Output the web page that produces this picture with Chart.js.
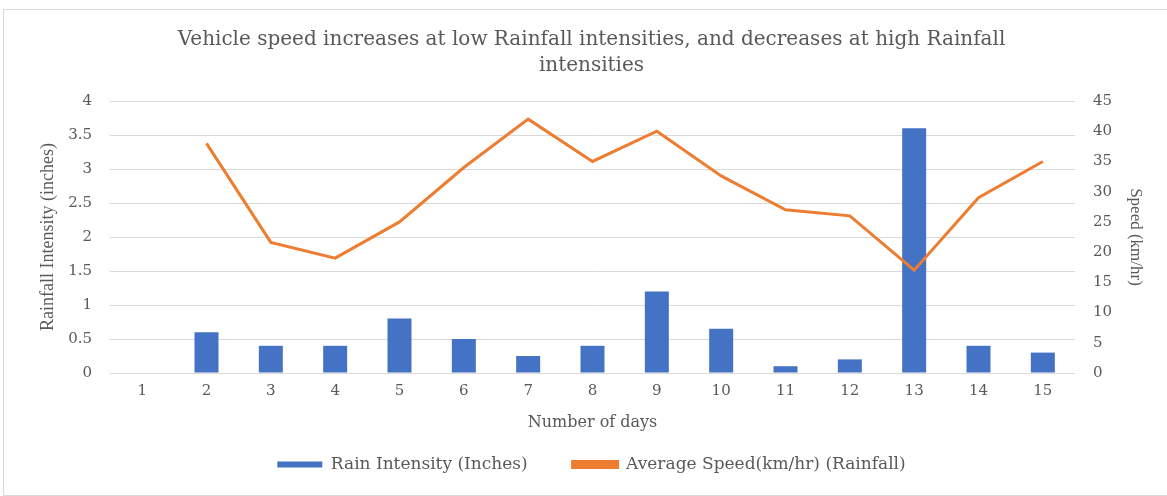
<!DOCTYPE html>
<html>
<head>
<meta charset="utf-8">
<script src="https://cdn.jsdelivr.net/npm/chart.js@4/dist/chart.umd.min.js"></script>
<style>
  html, body { margin: 0; padding: 0; background: #fff; overflow: hidden; }
  #kutu {
    position: absolute; left: 3px; top: 9px; width: 1165px; height: 487px;
    border: 1px solid #d9d9d9; box-sizing: border-box; background: #fff;
  }
  canvas { display: block; }
</style>
</head>
<body>
<div id="kutu"><canvas id="grafik" width="1163" height="485"></canvas></div>
<script>
// Günler ve ölçülen değerler
const gunler = ["1", "2", "3", "4", "5", "6", "7", "8", "9", "10", "11", "12", "13", "14", "15"];
const yagisSiddeti = [0, 0.6, 0.4, 0.4, 0.8, 0.5, 0.25, 0.4, 1.2, 0.65, 0.1, 0.2, 3.6, 0.4, 0.3];
const ortalamaHiz = [null, 38, 21.6, 19, 25, 34, 42, 35, 40, 32.6, 27, 26, 17, 29, 35];
const solTikler = [0, 0.5, 1, 1.5, 2, 2.5, 3, 3.5, 4];
const sagTikler = [0, 5, 10, 15, 20, 25, 30, 35, 40, 45];

const genisYazi = "'DejaVu Serif', serif"; // yatay yazılar geniş görünüyor
const darYazi = "'Liberation Serif', serif"; // dikey eksen başlıkları
const gri = "#595959";

new Chart(document.getElementById("grafik"), {
  type: "bar",
  data: {
    labels: gunler,
    datasets: [
      {
        label: "Average Speed(km/hr) (Rainfall)",
        type: "line",
        data: ortalamaHiz,
        borderColor: "#ed7d31",
        backgroundColor: "#ed7d31",
        borderWidth: 3,
        pointRadius: 0,
        tension: 0,
        yAxisID: "y1",
      },
      {
        label: "Rain Intensity (Inches)",
        data: yagisSiddeti,
        backgroundColor: "#4472c4",
        categoryPercentage: 1,
        barPercentage: 0.373,
        yAxisID: "y",
      },
    ],
  },
  options: {
    responsive: false,
    animation: false,
    layout: { padding: { left: 29, right: 17, top: 0, bottom: 12 } },
    plugins: {
      title: {
        display: true,
        text: ["Vehicle speed increases at low Rainfall intensities, and decreases at high Rainfall", "intensities"],
        color: gri,
        font: { family: genisYazi, size: 20, weight: "normal", lineHeight: 1.3 },
        padding: { top: 17, bottom: 22 },
      },
      legend: {
        position: "bottom",
        reverse: true,
        labels: {
          color: gri,
          font: { family: genisYazi, size: 17 },
          boxWidth: 45,
          boxHeight: 6,
          padding: 45,
        },
      },
      tooltip: { enabled: false },
    },
    scales: {
      x: {
        // legend üst boşluğu başlığın altına girsin diye yükseklik sabit
        afterFit: (eksen) => { eksen.height = 38; },
        grid: { display: false, drawTicks: false },
        border: { display: false },
        ticks: { color: gri, font: { family: genisYazi, size: 15 }, maxRotation: 0, autoSkip: false, padding: 9 },
        title: {
          display: true,
          text: "Number of days",
          color: gri,
          font: { family: genisYazi, size: 16 },
          padding: { top: 0, bottom: -21 },
        },
      },
      y: {
        position: "left",
        min: 0,
        max: 4,
        afterBuildTicks: (eksen) => { eksen.ticks = solTikler.map((v) => ({ value: v })); },
        afterFit: (eksen) => { eksen.width = 77; },
        grid: { color: "#d9d9d9", lineWidth: 1, drawTicks: false },
        border: { display: false },
        ticks: { color: gri, font: { family: genisYazi, size: 15 }, padding: 18, callback: (v) => String(v) },
        title: {
          display: true,
          text: "Rainfall Intensity (inches)",
          color: gri,
          font: { family: darYazi, size: 18 },
        },
      },
      y1: {
        position: "right",
        min: 0,
        max: 45,
        afterBuildTicks: (eksen) => { eksen.ticks = sagTikler.map((v) => ({ value: v })); },
        afterFit: (eksen) => { eksen.width = 75; },
        grid: { display: false, drawTicks: false },
        border: { display: false },
        ticks: { color: gri, font: { family: genisYazi, size: 15 }, padding: 18, callback: (v) => String(v) },
        title: {
          display: true,
          text: "Speed (km/hr)",
          color: gri,
          font: { family: darYazi, size: 17 },
        },
      },
    },
  },
});
</script>
</body>
</html>
